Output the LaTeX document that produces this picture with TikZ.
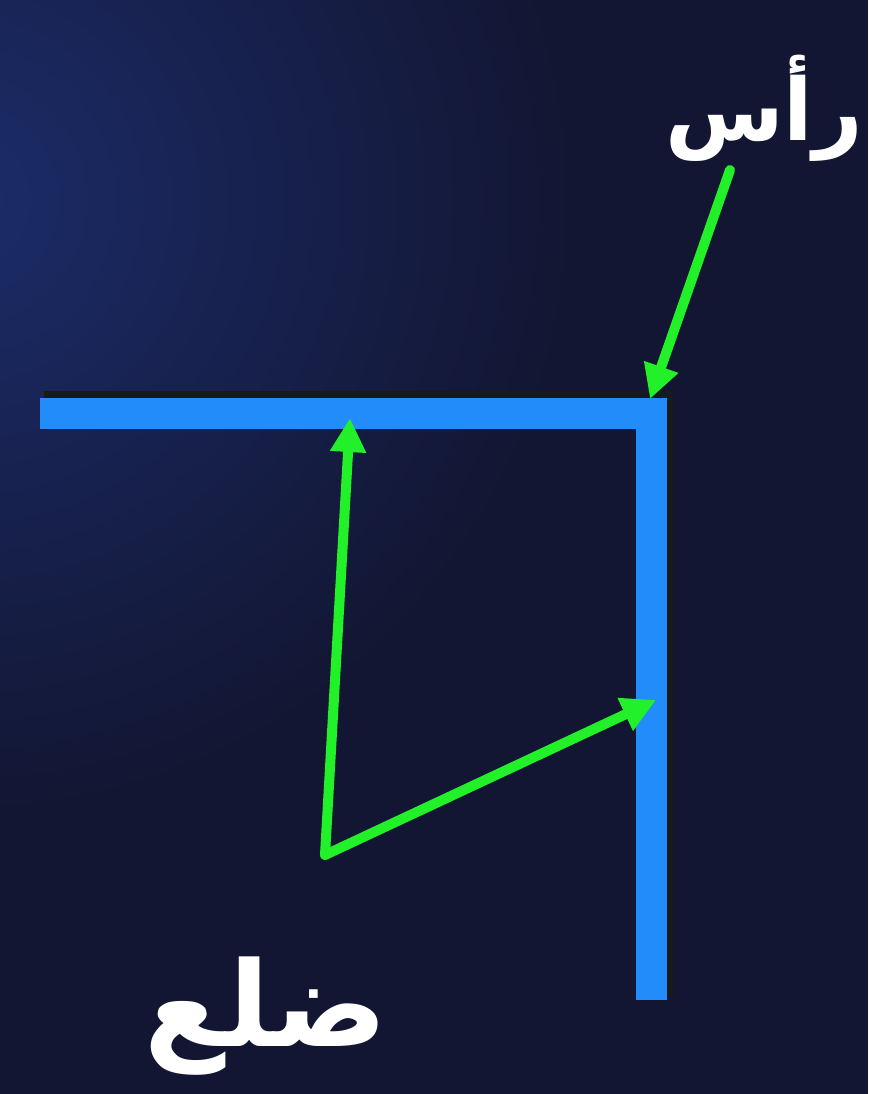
\documentclass[tikz,border=0pt]{standalone}
\usepackage{fontspec}
\newfontfamily\arabicfont[Script=Arabic]{DejaVu Sans}
\TeXXeTstate=1
\usetikzlibrary{arrows.meta}
\definecolor{bgdark}{RGB}{18,22,50}
\definecolor{bglight}{RGB}{28,44,105}
\definecolor{barblue}{RGB}{34,140,250}
\definecolor{arrgreen}{RGB}{34,240,40}
\tikzset{
  bar/.style={line width=31pt, draw=barblue, line cap=butt, line join=miter},
  shadowbar/.style={line width=35pt, draw=black!90, line cap=butt, line join=miter},
  garrow/.style={draw=arrgreen, line width=10pt, line cap=round, -{Triangle[length=34pt,width=34pt]}},
  label/.style={text=white, font=\arabicfont\bfseries, inner sep=0pt}
}
\begin{document}
\begin{tikzpicture}[x=1pt,y=-1pt]
\useasboundingbox (0,0) rectangle (868,1094);
\fill[bgdark] (0,0) rectangle (868,1094);
\begin{scope}
\clip (0,0) rectangle (868,1094);
\shade[inner color=bglight, outer color=bgdark] (-40,200) circle (620);
\end{scope}
% L shape
\coordinate (hl) at (40,413);
\coordinate (corner) at (651.5,413);
\coordinate (vb) at (651.5,1000);
\draw[shadowbar] ([xshift=4pt,yshift=5pt]hl) -- ([xshift=4pt,yshift=5pt]corner) -- ([xshift=4pt,yshift=5pt]vb);
\draw[bar] (40,413) -- (667,413);
\draw[bar] (651.5,397.5) -- (vb);
% labels
\node[label, font=\arabicfont\bfseries\fontsize{86}{96}\selectfont] (ras) at (764,108) {\beginR رأس\endR};
\node[label, font=\arabicfont\bfseries\fontsize{118}{126}\selectfont] (dil) at (266,1016) {\beginR ضلع\endR};
% arrows
\coordinate (rasstart) at (730,170);
\coordinate (vtx) at (650,399);
\coordinate (apex) at (325,855);
\coordinate (toptip) at (350,418);
\coordinate (sidetip) at (656,700);
\draw[garrow] (rasstart) -- (vtx);
\draw[garrow] (apex) -- (toptip);
\draw[garrow] (apex) -- (sidetip);
\end{tikzpicture}
\end{document}
